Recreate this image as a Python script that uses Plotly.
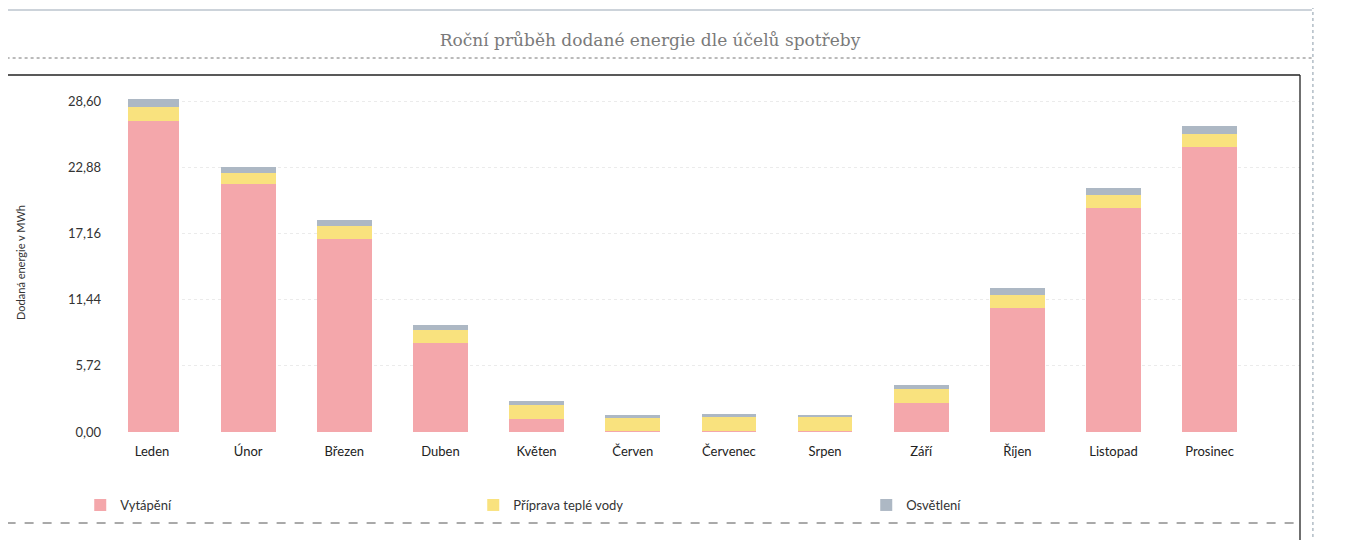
import plotly.graph_objects as go

months = ["Leden", "Únor", "Březen", "Duben", "Květen", "Červen", "Červenec",
          "Srpen", "Září", "Říjen", "Listopad", "Prosinec"]
vytapeni = [26.85, 21.4, 16.7, 7.7, 1.15, 0.05, 0.05, 0.05, 2.5, 10.75, 19.4, 24.6]
priprava_tv = [1.25, 0.96, 1.1, 1.1, 1.15, 1.2, 1.25, 1.3, 1.25, 1.08, 1.1, 1.16]
osvetleni = [0.65, 0.58, 0.55, 0.45, 0.35, 0.25, 0.25, 0.15, 0.35, 0.58, 0.58, 0.67]
y_ticks = [0.0, 5.72, 11.44, 17.16, 22.88, 28.60]
y_ticktext = ["0,00", "5,72", "11,44", "17,16", "22,88", "28,60"]

W, H = 1347, 540
OFF = 8  # default page body margin
L, R, T, B = 122 - OFF, 1300 - OFF, 93 - OFF, 432 - OFF


def px(x):
    return (x - OFF - L) / (R - L)


def py(y):
    return (B - (y - OFF)) / (B - T)


fig = go.Figure()
fig.add_bar(name="Vytápění", x=months, y=vytapeni, marker_color="#F4A7AB",
            marker_line_width=0)
fig.add_bar(name="Příprava teplé vody", x=months, y=priprava_tv, marker_color="#F9E27E",
            marker_line_width=0)
fig.add_bar(name="Osvětlení", x=months, y=osvetleni, marker_color="#ADB8C4",
            marker_line_width=0)

font_main = "Lato, 'Open Sans', sans-serif"


def hline(y, x0, x1, color, width, dash="solid"):
    return dict(type="line", xref="paper", yref="paper", x0=px(x0), x1=px(x1),
                y0=py(y), y1=py(y), line=dict(color=color, width=width, dash=dash))


def vline(x, y0, y1, color, width, dash="solid"):
    return dict(type="line", xref="paper", yref="paper", x0=px(x), x1=px(x),
                y0=py(y0), y1=py(y1), line=dict(color=color, width=width, dash=dash))


shapes = [
    hline(10, 0, 1312, "#9aa7b5", 1),
    hline(58, 0, 1312, "#777", 1, "dot"),
    hline(75, 0, 1300, "#222", 1.3),
    vline(1300, 75, 548, "#222", 1.3),
    vline(1313, 0, 548, "#8a9aa8", 1, "dot"),
    hline(523, 0, 1300, "#555", 1, "dash"),
]

fig.update_layout(
    width=W, height=H,
    barmode="stack",
    bargap=0.43,
    paper_bgcolor="white",
    plot_bgcolor="white",
    margin=dict(l=L, r=W - R, t=T, b=H - B),
    title=dict(text="Roční průběh dodané energie dle účelů spotřeby",
               x=(650 - OFF) / W, xanchor="center", xref="container",
               y=1 - (40 - OFF) / H, yanchor="middle", yref="container",
               font=dict(family="'DejaVu Serif', serif", size=17, color="#7a7a7a")),
    font=dict(family=font_main, size=12, color="#333"),
    xaxis=dict(range=[-0.25, 11.94], showgrid=False, showline=False, ticks="",
               tickfont=dict(size=13, color="#222"), ticklabelstandoff=10),
    yaxis=dict(range=[0, 29.3], tickvals=y_ticks, ticktext=y_ticktext,
               showgrid=True, gridcolor="#ebebeb", griddash="dot", gridwidth=1,
               zeroline=False, showline=False, ticks="",
               tickfont=dict(size=13, color="#333"), ticklabelstandoff=26,
               title=dict(text="Dodaná energie v MWh", standoff=40,
                          font=dict(size=11, color="#333"))),
    legend=dict(orientation="h", x=px(74), y=py(490), xanchor="left", yanchor="top",
                entrywidth=348, entrywidthmode="pixels", bgcolor="rgba(0,0,0,0)",
                font=dict(size=13, color="#333"), traceorder="normal"),
    shapes=shapes,
    showlegend=True,
)

fig.write_html("out.html")
